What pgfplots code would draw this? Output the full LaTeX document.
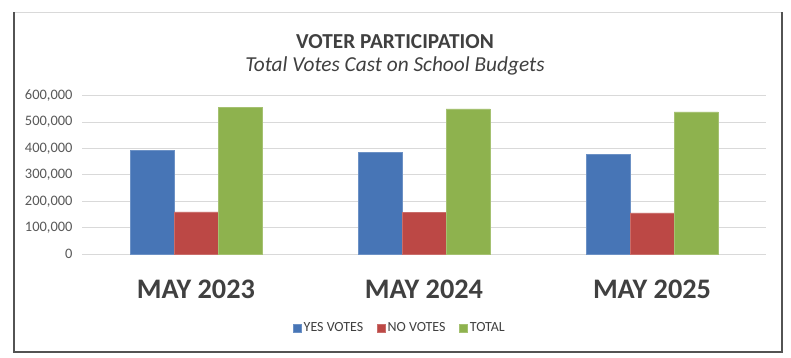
\documentclass[border=0pt]{standalone}
\usepackage{pgfplots}
\pgfplotsset{compat=1.18}
\usepackage{fontspec}
\setmainfont{Carlito}
\definecolor{cblue}{HTML}{4775B6}
\definecolor{cred}{HTML}{BC4845}
\definecolor{cgreen}{HTML}{8EB24E}
\definecolor{txt}{HTML}{404040}
\definecolor{tickc}{HTML}{595959}
\definecolor{gridc}{HTML}{D9D9D9}
\begin{document}
\begin{tikzpicture}[x=1bp,y=1bp]
\useasboundingbox (0,0) rectangle (791,-357);
\fill[white] (0,0) rectangle (791,-357);
% frame
\draw[gridc, line width=1bp] (14,-12) -- (782,-12);
\draw[txt!90, line width=1.5bp] (14,-12) -- (14,-352) -- (782,-352) -- (782,-12);
% titles
\node[txt, font=\fontsize{21.4}{24}\selectfont\bfseries] at (395,-42) {VOTER PARTICIPATION};
\node[txt, font=\fontsize{21.4}{24}\selectfont\itshape] at (395,-66) {Total Votes Cast on School Budgets};
\begin{axis}[
  at={(82bp,-254bp)}, anchor=south west,
  scale only axis, width=684bp, height=158.3bp,
  xmin=-0.5, xmax=2.5, ymin=0, ymax=600000,
  ybar=0pt, bar width=44bp,
  xtick={0,1,2}, xticklabels={MAY 2023,MAY 2024,MAY 2025},
  ytick={0,100000,...,600000},
  scaled y ticks=false,
  /pgf/number format/fixed,
  /pgf/number format/1000 sep={,},
  /pgf/number format/assume math mode=true,
  yticklabel style={font=\fontsize{14.5}{16}\selectfont, text=tickc, xshift=-6bp},
  xticklabel style={font=\fontsize{28.4}{32}\selectfont\bfseries, text=txt, yshift=-22bp},
  axis line style={draw=none},
  major tick length=0pt,
  ymajorgrids, xmajorgrids=false, major grid style={draw=gridc, line width=0.8bp},
  legend style={at={(0.465,-0.4675)}, anchor=center, draw=none, fill=none, legend columns=3,
    font=\fontsize{14}{16}\selectfont, text=txt,
    /tikz/every even column/.append style={column sep=12bp}},
  legend image code/.code={\fill[#1] (0bp,-4bp) rectangle (8bp,4bp);},
]
\addplot[fill=cblue, draw=cblue!80!white, line width=0.4bp] coordinates {(0,394000) (1,385000) (2,378000)};
\addplot[fill=cred, draw=cred!80!white, line width=0.4bp] coordinates {(0,160000) (1,159000) (2,156000)};
\addplot[fill=cgreen, draw=cgreen!80!white, line width=0.4bp] coordinates {(0,556000) (1,550000) (2,539000)};
\legend{YES VOTES, NO VOTES, TOTAL}
\end{axis}
\end{tikzpicture}
\end{document}
